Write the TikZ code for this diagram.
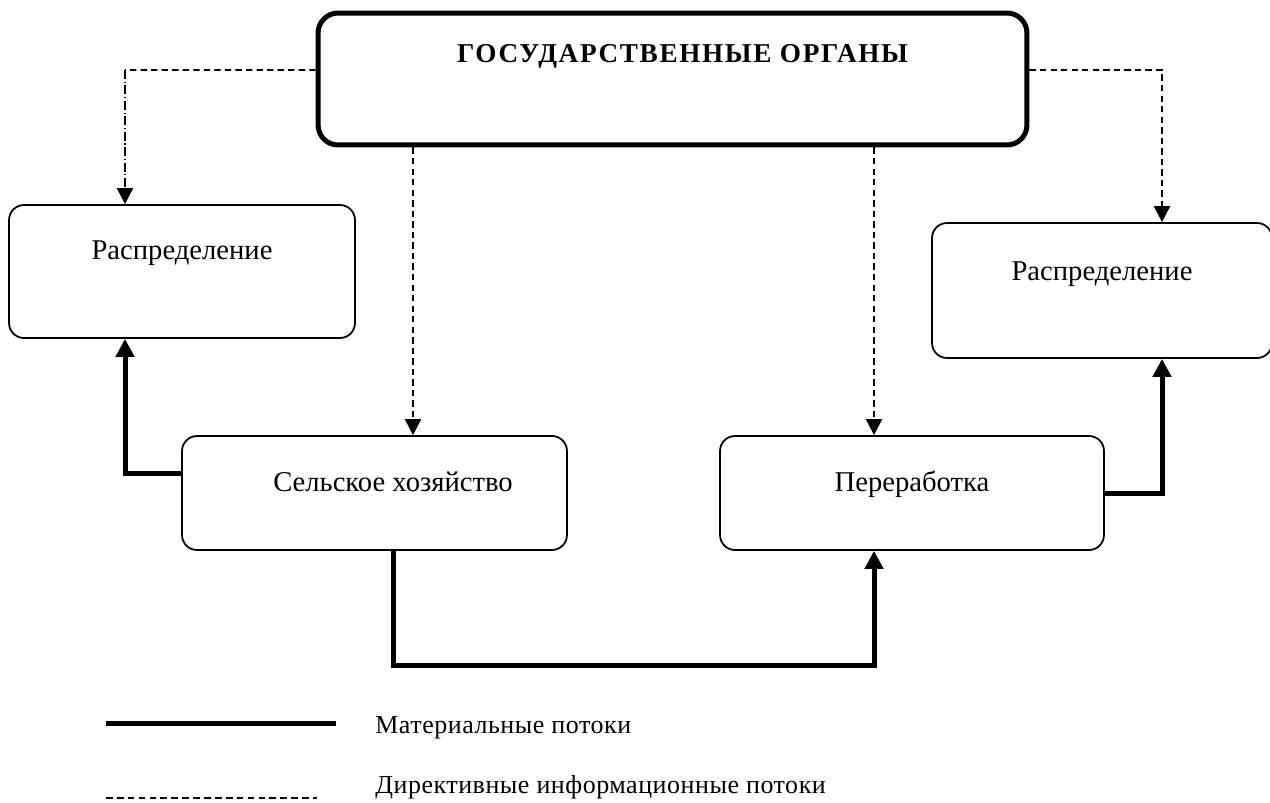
\documentclass[tikz,border=0pt]{standalone}
\usepackage{fontspec}
\setmainfont{Liberation Serif}
\usetikzlibrary{arrows.meta}
\newcommand{\boxfont}{\fontsize{16.3}{19.5}\selectfont}
\newcommand{\legfont}{\fontsize{14.8}{18}\selectfont\addfontfeatures{LetterSpace=2}}
\newcommand{\titlefont}{\fontsize{15.5}{18}\selectfont\bfseries\addfontfeatures{LetterSpace=6}}

\begin{document}
\begin{tikzpicture}[x=0.02cm, y=-0.02cm,
    box/.style={draw, rounded corners=0.3cm, line width=1pt, inner sep=2pt,
      text height=0.4cm, font=\boxfont},
    govbox/.style={draw, rounded corners=0.4cm, line width=0.1cm,
      text height=0.38cm, font=\titlefont},
    flow/.style={line width=0.1cm, -{Triangle[length=0.36cm,width=0.36cm]}},
    info/.style={line width=1pt, dash pattern=on 3.6pt off 2.4pt,
      -{Triangle[length=0.32cm,width=0.32cm]}},
    infodot/.style={info, dash pattern=on 5pt off 1.6pt on 0.6pt off 1.6pt},
    legend/.style={anchor=base west, inner sep=0pt, font=\legfont}]
    \useasboundingbox (0,0) rectangle (1270,802);

    \node[govbox, minimum width=14.18cm, minimum height=2.64cm, text depth=1.05cm]
      (gov) at (672.5,79) {\hspace*{0.4cm}ГОСУДАРСТВЕННЫЕ ОРГАНЫ};
    \node[box, minimum width=6.92cm, minimum height=2.66cm, text depth=0.88cm]
      (dist1) at (182,271.5) {Распределение};
    \node[box, minimum width=6.8cm, minimum height=2.7cm, text depth=0.82cm]
      (dist2) at (1102,290.5) {Распределение};
    \node[box, minimum width=7.7cm, minimum height=2.28cm, text depth=0.48cm]
      (farm) at (374.5,493) {\hspace*{0.74cm}Сельское хозяйство};
    \node[box, minimum width=7.68cm, minimum height=2.28cm, text depth=0.48cm]
      (proc) at (912,493) {Переработка};

    \coordinate (tl) at (125,70);
    \draw[info, -] ([yshift=0.18cm]gov.west) -- (tl);
    \draw[infodot] (tl) -- (tl |- dist1.north);
    \draw[info] ([yshift=0.18cm]gov.east) -| ([xshift=1.2cm]dist2.north);
    \draw[info] ([xshift=0.77cm]farm.north |- gov.south) -- ([xshift=0.77cm]farm.north);
    \draw[info] ([xshift=-0.76cm]proc.north |- gov.south) -- ([xshift=-0.76cm]proc.north);

    \draw[flow] ([yshift=0.4cm]farm.west) -| ([xshift=-1.14cm]dist1.south);
    \draw[flow] (proc.east) -| ([xshift=1.2cm]dist2.south);
    \draw[flow] ([xshift=0.37cm]farm.south) -- ++(0,115) -| ([xshift=-0.76cm]proc.south);

    \node[legend] (mat) at (375,733) {Материальные потоки};
    \node[legend] (dir) at (375,793) {Директивные информационные потоки};
    \draw[line width=0.1cm] (106,723) -- (336,723);
    \draw[line width=0.6pt, dash pattern=on 3.8pt off 2.4pt] (106,798) -- (317,798);
  \end{tikzpicture}
\end{document}
